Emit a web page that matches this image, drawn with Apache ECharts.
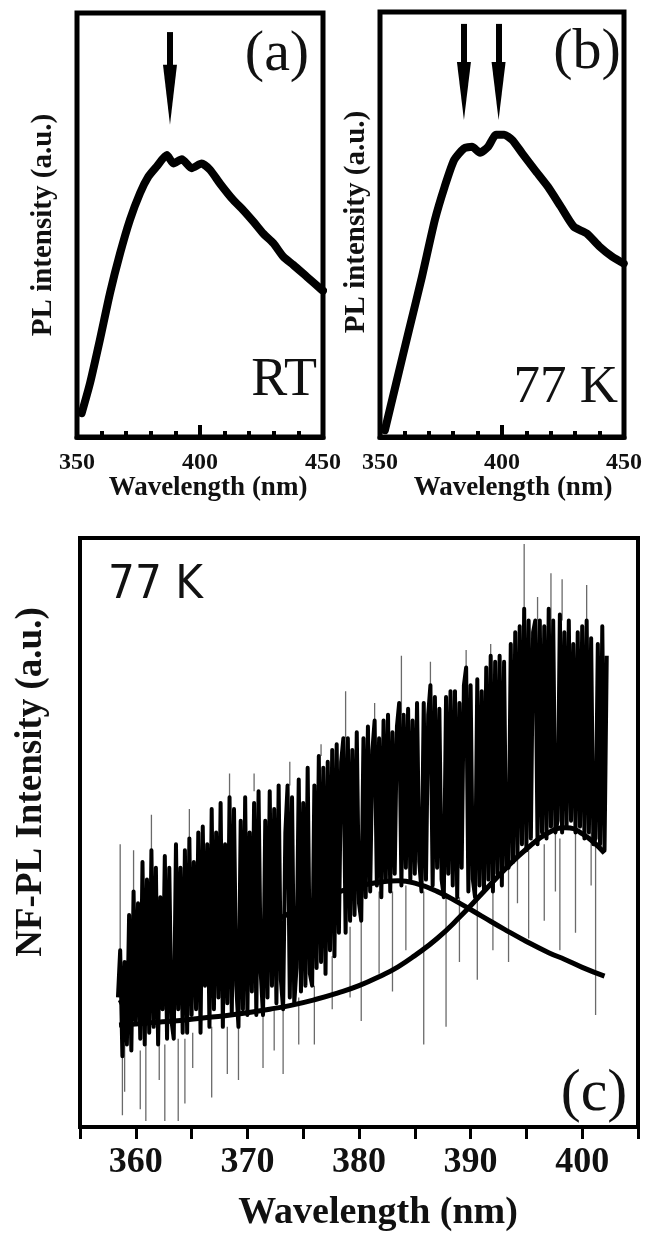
<!DOCTYPE html>
<html>
<head>
<meta charset="utf-8">
<script src="https://cdn.jsdelivr.net/npm/echarts/dist/echarts.min.js"></script>
<style>
html, body { margin: 0; padding: 0; background: #fff; }
#main { width: 645px; height: 1235px; }
</style>
</head>
<body>
<div id="main"></div>
<script>
// (a) PL spectrum at room temperature
var rtX = [351.9, 355.3, 359.3, 363.4, 367.5, 371.5, 375.6, 379.0, 382.4, 386.5, 389.2, 392.6, 396.6,
  400.7, 404.1, 408.1, 413.5, 417.6, 421.7, 425.7, 429.8, 433.9, 437.9, 443.4, 449.5, 450];
var rtY = [0.056, 0.127, 0.229, 0.339, 0.433, 0.512, 0.575, 0.614, 0.638, 0.665, 0.645, 0.655, 0.634,
  0.645, 0.630, 0.598, 0.559, 0.535, 0.508, 0.480, 0.457, 0.425, 0.406, 0.378, 0.347, 0.345];
var rtArrows = [387.8];

// (b) PL spectrum at 77 K
var lnX = [352.0, 356.6, 361.9, 367.2, 372.5, 376.5, 380.4, 384.4, 387.7, 391.0, 394.3, 397.6, 400.9,
  404.2, 408.2, 413.5, 418.8, 424.1, 429.4, 434.7, 440.0, 445.2, 449.9];
var lnY = [0.016, 0.126, 0.252, 0.377, 0.511, 0.589, 0.652, 0.679, 0.683, 0.669, 0.683, 0.711, 0.711,
  0.699, 0.668, 0.628, 0.589, 0.542, 0.495, 0.479, 0.448, 0.424, 0.408];
var lnArrows = [384.4, 398.6];

// (c) near-field PL at 77 K, sampled every 0.2 nm from 358.4 nm
var nfStart = 358.4;
var nfStep = 0.2;
var nfY = [
  22, 30, 12, 28, 14,  36, 13, 40, 18, 38,   15, 45, 14, 42, 16,   47, 17, 44, 14, 39,
  20, 46, 15, 44, 18,  15, 48, 20, 44, 16,   47, 16, 49, 19, 45,   20, 50, 16, 51, 24,
  48, 17, 54, 20, 50,  22, 55, 17, 48, 21,   56, 19, 54, 24, 17,   52, 20, 56, 19, 50,
  23, 55, 19, 57, 26,  19, 52, 22, 57, 24,   54, 21, 58, 25, 20,   50, 58, 22, 56, 21,
  27, 59, 23, 55, 24,  61, 26, 24, 58, 27,   63, 28, 61, 26, 62,   30, 64, 29, 65, 33,
  62, 66, 33, 66, 35,  64, 36, 67, 38, 35,   66, 39, 68, 40, 64,   69, 41, 66, 39, 69,
  42, 70, 40, 67, 43,  68, 72, 41, 70, 44,   71, 42, 69, 43, 72,   45, 40, 72, 42, 70,
  75, 41, 73, 44, 71,  42, 39, 73, 43, 74,   41, 74, 39, 72, 44,   75, 78, 40, 75, 42,
  39, 76, 41, 74, 40,  78, 42, 80, 40, 79,   43, 80, 41, 79, 44,   44, 82, 45, 84, 46,
  85, 48, 88, 47, 86,  49, 84, 86, 48, 86,   50, 85, 49, 88, 51,   86, 50, 52, 87, 50,
  84, 51, 86, 52, 82,  50, 84, 51, 85, 49,   86, 50, 83, 48, 49,   82, 48, 85, 47, 80
];
// isolated single-sample spikes: wavelength, level they leave from, level they reach
var spikeX = [358.6, 358.8, 359.0, 359.8, 360.4, 360.9, 361.4, 362.1, 362.6, 363.8, 364.4, 364.8, 365.1,
  366.8, 368.2, 368.4, 369.2, 370.6, 371.4, 372.4, 373.2, 373.8, 374.6, 376.0, 376.6, 377.6, 378.8,
  379.2, 380.2, 381.4, 381.8, 383.0, 383.8, 384.2, 385.8, 386.4, 387.8, 389.0, 389.6, 390.6, 391.8,
  392.0, 393.4, 394.2, 394.8, 395.2, 396.0, 396.6, 397.2, 397.6, 398.0, 398.2, 399.4, 400.4, 400.8,
  401.2, 401.8];
var spikeFrom = [30, 12, 14, 40, 13, 14, 47, 14, 14, 15, 15, 49, 16,
  17, 17, 56, 18, 57, 19, 20, 20, 58, 22, 24, 63, 29, 66,
  34, 38, 69, 40, 40, 70, 41, 40, 73, 39, 39, 75, 39, 78,
  40, 44, 46, 85, 47, 86, 48, 86, 50, 49, 86, 50, 84, 50,
  48, 82];
var spikeTo = [48, 2, 6, 47, 3, 1, 53, 8, 1, 1, 4, 54, 10,
  5, 9, 60, 8, 60, 10, 13, 9, 62, 14, 14, 65, 20, 74,
  22, 18, 72, 26, 23, 80, 30, 14, 79, 17, 28, 81, 25, 82,
  30, 28, 38, 99, 32, 90, 35, 94, 40, 30, 93, 33, 92, 41,
  19, 85];

// two fitted peaks
var fitX = [358.5, 360, 362, 364, 366, 368, 370, 372, 374, 376, 378, 380, 382, 383.5, 385, 387, 389,
  391, 393, 395, 397, 398.5, 400, 402];
var fit1 = [21, 22.5, 24.5, 26.5, 28.5, 30.5, 32.5, 34.5, 36.5, 38.3, 39.8, 40.9, 41.6, 41.8, 41.4, 40,
  38, 35.8, 33.6, 31.5, 29.6, 28.4, 27.1, 25.6];
var fit2 = [17.3, 17.5, 17.8, 18.1, 18.5, 18.9, 19.4, 20, 20.7, 21.6, 22.7, 24, 25.7, 27.2, 29.1, 32,
  35.6, 39.6, 43.6, 47.2, 50, 50.8, 49.8, 46.5];

function pairs(xs, ys) {
  var out = [];
  for (var i = 0; i < xs.length; i++) out.push([xs[i], ys[i]]);
  return out;
}
var nfData = [];
for (var i = 0; i < nfY.length; i++) nfData.push([+(nfStart + i * nfStep).toFixed(1), nfY[i]]);
var spikeData = [];
for (var j = 0; j < spikeX.length; j++) {
  spikeData.push([spikeX[j], spikeFrom[j]], [spikeX[j], spikeTo[j]], [spikeX[j], '-']);
}

var serif = "'Liberation Serif', 'Times New Roman', serif";

function arrowLines(xs, yTop, yEnd) {
  return xs.map(function (x) {
    return [{ coord: [x, yTop] }, { coord: [x, yEnd] }];
  });
}

function smallXAxis(idx) {
  return {
    gridIndex: idx, type: 'value', min: 350, max: 450, interval: 50,
    axisLine: { lineStyle: { color: '#000', width: 5 } },
    axisTick: { inside: true, length: 12, lineStyle: { color: '#000', width: 4 } },
    minorTick: { show: true, splitNumber: 5, length: 6, lineStyle: { color: '#000', width: 4 } },
    splitLine: { show: false },
    axisLabel: { margin: 14, color: '#111', fontFamily: serif, fontWeight: 'bold', fontSize: 24 }
  };
}
function hiddenY(idx, max) {
  return { gridIndex: idx, type: 'value', min: 0, max: max, show: false, splitLine: { show: false } };
}

var myChart = echarts.init(document.getElementById('main'));

var option = {
  backgroundColor: '#fff',
  animation: false,
  grid: [
    { left: 77, top: 13, width: 246, height: 424, show: true, borderColor: '#000', borderWidth: 5 },
    { left: 380, top: 12, width: 252, height: 425, show: true, borderColor: '#000', borderWidth: 5 },
    { left: 80, top: 538, width: 558, height: 589, show: true, borderColor: '#000', borderWidth: 4 }
  ],
  xAxis: [
    smallXAxis(0),
    smallXAxis(1),
    {
      gridIndex: 2, type: 'value', min: 355, max: 405, interval: 5,
      axisLine: { lineStyle: { color: '#000', width: 4 } },
      axisTick: { length: 12, lineStyle: { color: '#000', width: 3 } },
      splitLine: { show: false },
      axisLabel: {
        margin: 18, color: '#111', fontFamily: serif, fontWeight: 'bold', fontSize: 36,
        formatter: function (v) { return v % 10 === 0 ? String(v) : ''; }
      }
    }
  ],
  yAxis: [hiddenY(0, 1), hiddenY(1, 1), hiddenY(2, 100)],
  graphic: [
    { type: 'text', x: 208, y: 488, style: { text: 'Wavelength (nm)', x: 0, y: 0, align: 'center', verticalAlign: 'middle', font: 'bold 27px ' + serif, fill: '#111' } },
    { type: 'text', x: 513, y: 488, style: { text: 'Wavelength (nm)', x: 0, y: 0, align: 'center', verticalAlign: 'middle', font: 'bold 27px ' + serif, fill: '#111' } },
    { type: 'text', x: 378, y: 1213, style: { text: 'Wavelength (nm)', x: 0, y: 0, align: 'center', verticalAlign: 'middle', font: 'bold 38px ' + serif, fill: '#111' } },
    { type: 'text', x: 44, y: 225, rotation: Math.PI / 2, style: { text: 'PL intensity (a.u.)', x: 0, y: 0, align: 'center', verticalAlign: 'middle', font: 'bold 29px ' + serif, fill: '#111' } },
    { type: 'text', x: 357, y: 222, rotation: Math.PI / 2, style: { text: 'PL intensity (a.u.)', x: 0, y: 0, align: 'center', verticalAlign: 'middle', font: 'bold 29px ' + serif, fill: '#111' } },
    { type: 'text', x: 31, y: 782, rotation: Math.PI / 2, style: { text: 'NF-PL Intensity (a.u.)', x: 0, y: 0, align: 'center', verticalAlign: 'middle', font: 'bold 37px ' + serif, fill: '#111' } },
    { type: 'text', x: 277, y: 55, style: { text: '(a)', x: 0, y: 0, align: 'center', verticalAlign: 'middle', font: '58px ' + serif, fill: '#111' } },
    { type: 'text', x: 317, y: 408, style: { text: 'RT', x: 0, y: 0, align: 'right', verticalAlign: 'bottom', font: '54px ' + serif, fill: '#111' } },
    { type: 'text', x: 587, y: 53, style: { text: '(b)', x: 0, y: 0, align: 'center', verticalAlign: 'middle', font: '58px ' + serif, fill: '#111' } },
    { type: 'text', x: 618, y: 415, style: { text: '77 K', x: 0, y: 0, align: 'right', verticalAlign: 'bottom', font: '53px ' + serif, fill: '#111' } },
    { type: 'text', x: 108, y: 586, style: { text: '77 K', x: 0, y: 0, align: 'left', verticalAlign: 'middle', font: "47px 'Liberation Sans Narrow', 'DejaVu Sans Condensed', sans-serif", fill: '#111' } },
    { type: 'text', x: 594, y: 1094, style: { text: '(c)', x: 0, y: 0, align: 'center', verticalAlign: 'middle', font: '60px ' + serif, fill: '#111' } }
  ],
  series: [
    {
      name: 'RT', type: 'line', xAxisIndex: 0, yAxisIndex: 0,
      data: pairs(rtX, rtY), smooth: 0.2, showSymbol: false,
      lineStyle: { color: '#000', width: 8, join: 'round', cap: 'round' },
      markLine: {
        silent: true, symbol: ['none', 'triangle'], symbolSize: [14, 60],
        label: { show: false },
        lineStyle: { color: '#000', width: 6, type: 'solid' },
        data: arrowLines(rtArrows, 0.955, 0.807)
      }
    },
    {
      name: '77 K', type: 'line', xAxisIndex: 1, yAxisIndex: 1,
      data: pairs(lnX, lnY), smooth: 0.2, showSymbol: false,
      lineStyle: { color: '#000', width: 8, join: 'round', cap: 'round' },
      markLine: {
        silent: true, symbol: ['none', 'triangle'], symbolSize: [14, 58],
        label: { show: false },
        lineStyle: { color: '#000', width: 6, type: 'solid' },
        data: arrowLines(lnArrows, 0.972, 0.814)
      }
    },
    {
      name: 'NF-PL spikes', type: 'line', xAxisIndex: 2, yAxisIndex: 2,
      data: spikeData, showSymbol: false, connectNulls: false,
      lineStyle: { color: '#6a6a6a', width: 1.3 }
    },
    {
      name: 'NF-PL', type: 'line', xAxisIndex: 2, yAxisIndex: 2,
      data: nfData, showSymbol: false,
      lineStyle: { color: '#000', width: 4, join: 'round' }
    },
    {
      name: 'fit 1', type: 'line', xAxisIndex: 2, yAxisIndex: 2,
      data: pairs(fitX, fit1), smooth: true, showSymbol: false, z: 5,
      lineStyle: { color: '#000', width: 5 }
    },
    {
      name: 'fit 2', type: 'line', xAxisIndex: 2, yAxisIndex: 2,
      data: pairs(fitX, fit2), smooth: true, showSymbol: false, z: 5,
      lineStyle: { color: '#000', width: 5 }
    }
  ]
};

myChart.setOption(option);
</script>
</body>
</html>
